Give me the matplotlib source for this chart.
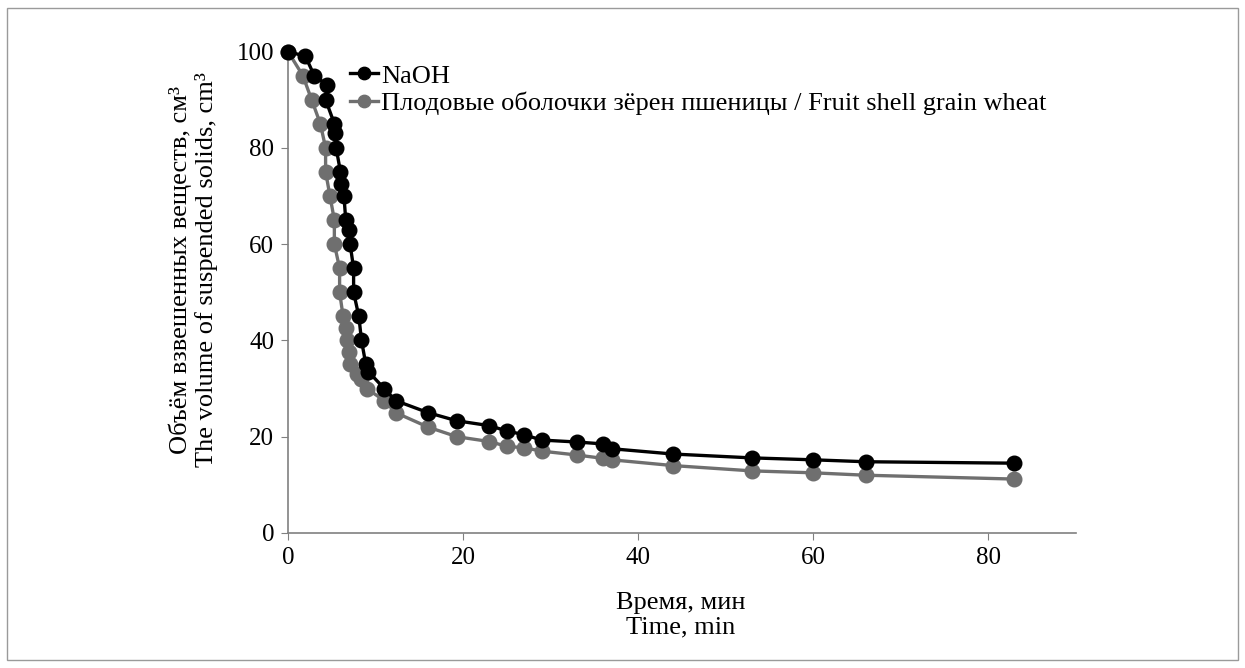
import matplotlib
matplotlib.use("Agg")
import matplotlib.pyplot as plt
from matplotlib.patches import Rectangle

plt.rcParams["font.family"] = ["Liberation Serif", "DejaVu Serif"]

# NaOH series (time, min / volume, cm3)
naoh_t = [0, 2, 3, 4.5, 4.3, 5.3, 5.4, 5.5, 6, 6.1, 6.4, 6.6, 7, 7.1, 7.5, 7.5,
          8.1, 8.4, 8.9, 9.2, 11, 12.3, 16, 19.3, 23, 25, 27, 29, 33, 36, 37,
          44, 53, 60, 66, 83]
naoh_v = [100, 99, 95, 93, 90, 85, 83, 80, 75, 72.5, 70, 65, 63, 60, 55, 50,
          45, 40, 35, 33.5, 30, 27.5, 25, 23.3, 22.3, 21.2, 20.4, 19.3, 18.9,
          18.5, 17.5, 16.4, 15.6, 15.2, 14.8, 14.5]

# fruit shell series
shell_t = [0, 1.7, 2.7, 3.7, 4.3, 4.3, 4.8, 5.3, 5.3, 5.9, 5.9, 6.3, 6.6, 6.8,
           7, 7.1, 7.9, 8.4, 9, 11, 12.3, 16, 19.3, 23, 25, 27, 29, 33, 36, 37,
           44, 53, 60, 66, 83]
shell_v = [100, 95, 90, 85, 80, 75, 70, 65, 60, 55, 50, 45, 42.5, 40, 37.5, 35,
           33, 32, 30, 27.5, 25, 22, 20, 19, 18, 17.7, 17, 16.2, 15.5, 15.2, 14,
           12.9, 12.5, 12, 11.2]

fig = plt.figure(figsize=(12.45, 6.68), dpi=100)
ax = fig.add_axes([0.2313, 0.2021, 0.6326, 0.7208])

gray = "#6f6f6f"
ax.plot(naoh_t, naoh_v, color="black", lw=2.4, marker="o", ms=10.5,
        label="NaOH", zorder=3)
ax.plot(shell_t, shell_v, color=gray, lw=2.4, marker="o", ms=10.5,
        label="Плодовые оболочки зёрен пшеницы / Fruit shell grain wheat",
        zorder=2)

ax.set_xlim(0, 90)
ax.set_ylim(0, 100)
ax.set_xticks([0, 20, 40, 60, 80])
ax.set_yticks([0, 20, 40, 60, 80, 100])
for s in ["top", "right"]:
    ax.spines[s].set_visible(False)
for s in ["left", "bottom"]:
    ax.spines[s].set_color("#808080")
    ax.spines[s].set_linewidth(1.2)
ax.tick_params(direction="out", length=5, color="#808080", labelsize=18,
               pad=5)
for ln in ax.get_lines():
    ln.set_clip_on(False)

fig.text(0.5466, 0.079, "Время, мин\nTime, min", fontsize=19,
         ha="center", va="center", linespacing=1.15)
fig.text(0.1555, 0.596,
         "Объём взвешенных веществ, см³\nThe volume of suspended solids, cm³",
         fontsize=19, rotation=90, ha="center", va="center",
         multialignment="center", linespacing=1.15)

leg = ax.legend(loc="upper left", bbox_to_anchor=(0.2811, 0.904),
                bbox_transform=fig.transFigure, frameon=False,
                fontsize=19, handlelength=1.05, handletextpad=0.12,
                labelspacing=0.16, borderaxespad=0, borderpad=0,
                markerscale=0.85)

fig.patches.append(Rectangle((0.006, 0.012), 0.988, 0.976,
                             transform=fig.transFigure, fill=False,
                             edgecolor="#9a9a9a", lw=1.0))

fig.savefig("out.png", dpi=100)
